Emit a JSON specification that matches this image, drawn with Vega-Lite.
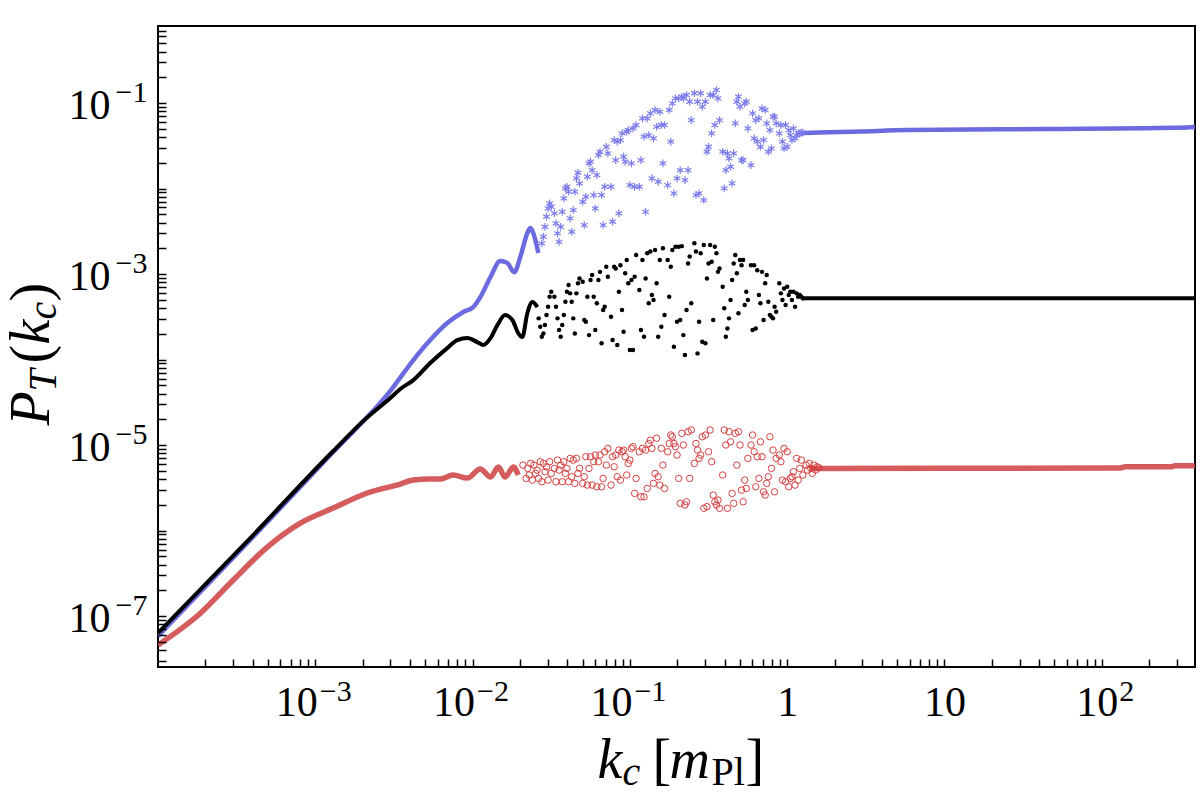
{
"$schema": "https://vega.github.io/schema/vega-lite/v6.json",
"width": 1037, "height": 641,
"autosize": {"type": "none"},
"padding": {"left": 158, "top": 26, "right": 5, "bottom": 129},
"background": "white",
"config": {"view": {"stroke": "black", "strokeWidth": 2}, "axis": {"grid": false, "domain": false}},
"resolve": {"axis": {"x": "independent", "y": "independent"}},
"datasets": {
"redLine": [
{"k":0.0001,"p":4.58e-8,"g":1},{"k":1.86e-4,"p":1.08e-7,"g":1},{"k":3.01e-4,"p":2.64e-7,"g":1},{"k":4.95e-4,"p":6.41e-7,"g":1},{"k":8.04e-4,"p":1.22e-6,"g":1},{"k":1.3e-3,"p":1.83e-6,"g":1},{"k":2.14e-3,"p":2.75e-6,"g":1},{"k":3.47e-3,"p":3.5e-6,"g":1},{"k":4.2e-3,"p":3.9e-6,"g":1},{"k":5.38e-3,"p":4.0e-6,"g":1},{"k":6.24e-3,"p":4.0e-6,"g":1},{"k":7.53e-3,"p":4.46e-6,"g":1},{"k":9.25e-3,"p":4.11e-6,"g":1},{"k":1.12e-2,"p":5.24e-6,"g":1},{"k":1.3e-2,"p":4.23e-6,"g":1},{"k":1.46e-2,"p":5.53e-6,"g":1},{"k":1.61e-2,"p":4.23e-6,"g":1},{"k":1.82e-2,"p":5.53e-6,"g":1},{"k":1.95e-2,"p":4.46e-6,"g":1},
{"k":1.38,"p":5.33e-6,"g":2},{"k":131,"p":5.38e-6,"g":2},{"k":141,"p":5.57e-6,"g":2},{"k":280,"p":5.57e-6,"g":2},{"k":290,"p":5.73e-6,"g":2},{"k":392,"p":5.73e-6,"g":2}
],
"blueLine": [
{"k":0.0001,"p":5.83e-8,"g":1},{"k":3.86e-4,"p":7.74e-7,"g":1},{"k":1.3e-3,"p":8.28e-6,"g":1},{"k":3.0e-3,"p":4.29e-5,"g":1},{"k":4.2e-3,"p":9.86e-5,"g":1},{"k":5.38e-3,"p":1.69e-4,"g":1},{"k":6.9e-3,"p":2.67e-4,"g":1},{"k":8.73e-3,"p":3.6e-4,"g":1},{"k":1.01e-2,"p":4.11e-4,"g":1},{"k":1.12e-2,"p":5.38e-4,"g":1},{"k":1.3e-2,"p":9.23e-4,"g":1},{"k":1.5e-2,"p":1.42e-3,"g":1},{"k":1.66e-2,"p":1.35e-3,"g":1},{"k":1.84e-2,"p":1.05e-3,"g":1},{"k":2.01e-2,"p":1.58e-3,"g":1},{"k":2.23e-2,"p":3.02e-3,"g":1},{"k":2.33e-2,"p":3.45e-3,"g":1},{"k":2.43e-2,"p":3.02e-3,"g":1},{"k":2.62e-2,"p":1.76e-3,"g":1},
{"k":1.202,"p":0.0442,"g":2},{"k":1.3,"p":0.0446,"g":2},{"k":2.92,"p":0.0464,"g":2},{"k":5.79,"p":0.0483,"g":2},{"k":42.5,"p":0.0497,"g":2},{"k":349,"p":0.0517,"g":2},{"k":392,"p":0.0524,"g":2}
],
"blackLine": [
{"k":0.0001,"p":6.32e-8,"g":1},{"k":3.86e-4,"p":8.17e-7,"g":1},{"k":1.3e-3,"p":8.51e-6,"g":1},{"k":2.08e-3,"p":2.01e-5,"g":1},{"k":3.0e-3,"p":3.55e-5,"g":1},{"k":3.47e-3,"p":4.52e-5,"g":1},{"k":4.2e-3,"p":5.75e-5,"g":1},{"k":5.38e-3,"p":9.1e-5,"g":1},{"k":6.9e-3,"p":1.36e-4,"g":1},{"k":8.0e-3,"p":1.69e-4,"g":1},{"k":9.25e-3,"p":1.78e-4,"g":1},{"k":1.07e-2,"p":1.6e-4,"g":1},{"k":1.17e-2,"p":1.48e-4,"g":1},{"k":1.3e-2,"p":1.78e-4,"g":1},{"k":1.44e-2,"p":2.54e-4,"g":1},{"k":1.61e-2,"p":3.31e-4,"g":1},{"k":1.79e-2,"p":2.9e-4,"g":1},{"k":1.95e-2,"p":2.04e-4,"g":1},{"k":2.07e-2,"p":1.83e-4,"g":1},{"k":2.23e-2,"p":3.5e-4,"g":1},{"k":2.4e-2,"p":4.71e-4,"g":1},{"k":2.58e-2,"p":4.11e-4,"g":1},
{"k":1.26,"p":5.2e-4,"g":2},{"k":392,"p":5.2e-4,"g":2}
],
"bluePts": [
{"k":0.02754,"p":0.00228},{"k":0.02818,"p":0.00273},{"k":0.02884,"p":0.00357},{"k":0.02951,"p":0.00468},{"k":0.0302,"p":0.00585},{"k":0.0309,"p":0.0067},{"k":0.03162,"p":0.00612},{"k":0.03311,"p":0.00512},{"k":0.03388,"p":0.00391},{"k":0.03467,"p":0.00299},{"k":0.03548,"p":0.00238},{"k":0.03631,"p":0.00357},{"k":0.03715,"p":0.00535},{"k":0.03802,"p":0.00767},{"k":0.0389,"p":0.01003},{"k":0.03981,"p":0.0105},{"k":0.04074,"p":0.00917},{"k":0.04169,"p":0.00447},{"k":0.04266,"p":0.00312},{"k":0.04365,"p":0.0056},{"k":0.04467,"p":0.00917},{"k":0.04571,"p":0.01314},{"k":0.04677,"p":0.0153},{"k":0.04786,"p":0.01148},{"k":0.05012,"p":0.00701},{"k":0.05129,"p":0.00374},{"k":0.05248,"p":0.00802},{"k":0.0537,"p":0.01374},{"k":0.05495,"p":0.0197},{"k":0.05623,"p":0.0206},{"k":0.05754,"p":0.0164},{"k":0.05888,"p":0.00839},{"k":0.06026,"p":0.00585},{"k":0.06166,"p":0.01437},{"k":0.0631,"p":0.0246},{"k":0.06457,"p":0.0269},{"k":0.06607,"p":0.00839},{"k":0.06761,"p":0.00374},{"k":0.06918,"p":0.0105},{"k":0.07079,"p":0.0308},{"k":0.07244,"p":0.0258},{"k":0.07586,"p":0.0105},{"k":0.07762,"p":0.00409},{"k":0.07943,"p":0.0369},{"k":0.08128,"p":0.0215},{"k":0.08318,"p":0.0353},{"k":0.08511,"p":0.00512},{"k":0.0871,"p":0.0369},{"k":0.08913,"p":0.0442},{"k":0.0912,"p":0.0236},{"k":0.09333,"p":0.0206},{"k":0.0955,"p":0.0462},{"k":0.09772,"p":0.0483},{"k":0.1,"p":0.01098},{"k":0.1023,"p":0.0197},{"k":0.1047,"p":0.0505},{"k":0.1072,"p":0.0105},{"k":0.1096,"p":0.0553},{"k":0.1148,"p":0.0105},{"k":0.1175,"p":0.0215},{"k":0.1202,"p":0.0661},{"k":0.123,"p":0.0404},{"k":0.1259,"p":0.00535},{"k":0.1288,"p":0.0661},{"k":0.1318,"p":0.0422},{"k":0.1349,"p":0.0757},{"k":0.138,"p":0.01314},{"k":0.1413,"p":0.0386},{"k":0.1445,"p":0.0828},{"k":0.1479,"p":0.0528},{"k":0.1514,"p":0.01201},{"k":0.1549,"p":0.0791},{"k":0.1585,"p":0.0553},{"k":0.1622,"p":0.0197},{"k":0.166,"p":0.0553},{"k":0.1738,"p":0.01098},{"k":0.1778,"p":0.0828},{"k":0.182,"p":0.0353},{"k":0.1862,"p":0.0991},{"k":0.1905,"p":0.00877},{"k":0.195,"p":0.1134},{"k":0.1995,"p":0.01314},{"k":0.2042,"p":0.1134},{"k":0.2089,"p":0.0164},{"k":0.2138,"p":0.1186},{"k":0.2188,"p":0.1134},{"k":0.2239,"p":0.01256},{"k":0.2291,"p":0.124},{"k":0.2344,"p":0.0164},{"k":0.2399,"p":0.1036},{"k":0.2455,"p":0.0632},{"k":0.257,"p":0.13},{"k":0.263,"p":0.00839},{"k":0.2692,"p":0.1036},{"k":0.2754,"p":0.00877},{"k":0.2818,"p":0.13},{"k":0.2884,"p":0.0906},{"k":0.2951,"p":0.00733},{"k":0.302,"p":0.1036},{"k":0.309,"p":0.0269},{"k":0.3162,"p":0.0308},{"k":0.3236,"p":0.124},{"k":0.3311,"p":0.0442},{"k":0.3388,"p":0.124},{"k":0.3467,"p":0.0553},{"k":0.3548,"p":0.142},{"k":0.3631,"p":0.1134},{"k":0.3715,"p":0.0632},{"k":0.389,"p":0.0269},{"k":0.3981,"p":0.01003},{"k":0.4074,"p":0.0164},{"k":0.4169,"p":0.0258},{"k":0.4266,"p":0.0225},{"k":0.4365,"p":0.018},{"k":0.4467,"p":0.01148},{"k":0.4571,"p":0.0258},{"k":0.4677,"p":0.0578},{"k":0.4786,"p":0.1036},{"k":0.4898,"p":0.1186},{"k":0.5012,"p":0.0906},{"k":0.5129,"p":0.0215},{"k":0.5248,"p":0.0215},{"k":0.537,"p":0.0991},{"k":0.5495,"p":0.1036},{"k":0.5623,"p":0.0505},{"k":0.5888,"p":0.0188},{"k":0.6026,"p":0.0757},{"k":0.6166,"p":0.0386},{"k":0.631,"p":0.0632},{"k":0.6457,"p":0.0353},{"k":0.6607,"p":0.0661},{"k":0.6761,"p":0.0308},{"k":0.6918,"p":0.0866},{"k":0.7079,"p":0.0369},{"k":0.7244,"p":0.0828},{"k":0.7413,"p":0.0578},{"k":0.7586,"p":0.0269},{"k":0.7762,"p":0.0483},{"k":0.7943,"p":0.0295},{"k":0.8128,"p":0.0692},{"k":0.8318,"p":0.0692},{"k":0.8511,"p":0.0578},{"k":0.8913,"p":0.0442},{"k":0.912,"p":0.0553},{"k":0.9333,"p":0.0353},{"k":0.955,"p":0.0295},{"k":0.9772,"p":0.0553},{"k":1.0,"p":0.0308},{"k":1.023,"p":0.0483},{"k":1.047,"p":0.0422},{"k":1.072,"p":0.0369},{"k":1.096,"p":0.0505},{"k":1.122,"p":0.0386},{"k":1.148,"p":0.0422},{"k":1.175,"p":0.0442},{"k":1.202,"p":0.0442},{"k":1.23,"p":0.045},{"k":1.259,"p":0.045}
],
"blackPts": [
{"k":0.0263,"p":3.03e-4},{"k":0.02692,"p":2.42e-4},{"k":0.02754,"p":1.85e-4},{"k":0.02818,"p":2.02e-4},{"k":0.02884,"p":2.53e-4},{"k":0.02951,"p":3.31e-4},{"k":0.0302,"p":4.15e-4},{"k":0.0309,"p":5.43e-4},{"k":0.03162,"p":6.21e-4},{"k":0.03311,"p":5.43e-4},{"k":0.03388,"p":4.15e-4},{"k":0.03467,"p":3.03e-4},{"k":0.03548,"p":2.21e-4},{"k":0.03631,"p":1.85e-4},{"k":0.03715,"p":2.53e-4},{"k":0.03802,"p":3.31e-4},{"k":0.0389,"p":4.75e-4},{"k":0.03981,"p":6.21e-4},{"k":0.04074,"p":7.43e-4},{"k":0.04169,"p":5.94e-4},{"k":0.04266,"p":4.75e-4},{"k":0.04365,"p":3.03e-4},{"k":0.04467,"p":2.02e-4},{"k":0.04571,"p":5.94e-4},{"k":0.04677,"p":7.78e-4},{"k":0.04786,"p":8.89e-4},{"k":0.05012,"p":8.13e-4},{"k":0.05129,"p":2.9e-4},{"k":0.05248,"p":2.77e-4},{"k":0.0537,"p":5.43e-4},{"k":0.05495,"p":1.93e-4},{"k":0.05623,"p":8.51e-4},{"k":0.05754,"p":9.73e-4},{"k":0.05888,"p":5.43e-4},{"k":0.06026,"p":2.21e-4},{"k":0.06166,"p":4.54e-4},{"k":0.0631,"p":8.51e-4},{"k":0.06457,"p":1.06e-3},{"k":0.06607,"p":1.55e-4},{"k":0.06761,"p":3.79e-4},{"k":0.06918,"p":4.15e-4},{"k":0.07079,"p":1.22e-3},{"k":0.07244,"p":9.31e-4},{"k":0.07586,"p":3.17e-4},{"k":0.07762,"p":1.69e-4},{"k":0.07943,"p":1.22e-3},{"k":0.08128,"p":1.16e-3},{"k":0.08318,"p":1.48e-4},{"k":0.08511,"p":6.21e-4},{"k":0.0871,"p":1.27e-3},{"k":0.08913,"p":3.79e-4},{"k":0.0912,"p":2.11e-4},{"k":0.09333,"p":1.02e-3},{"k":0.0955,"p":1.46e-3},{"k":0.09772,"p":7.78e-4},{"k":0.1,"p":1.29e-4},{"k":0.1023,"p":8.51e-4},{"k":0.1047,"p":1.29e-4},{"k":0.1072,"p":9.31e-4},{"k":0.1096,"p":1.67e-3},{"k":0.1148,"p":6.5e-4},{"k":0.1175,"p":2.21e-4},{"k":0.1202,"p":1.46e-3},{"k":0.123,"p":1.85e-4},{"k":0.1259,"p":8.89e-4},{"k":0.1288,"p":1.75e-3},{"k":0.1318,"p":4.54e-4},{"k":0.1349,"p":1.83e-3},{"k":0.138,"p":5.68e-4},{"k":0.1413,"p":4.97e-4},{"k":0.1445,"p":1.91e-3},{"k":0.1479,"p":7.78e-4},{"k":0.1514,"p":1.85e-4},{"k":0.1549,"p":1.46e-3},{"k":0.1585,"p":2.42e-4},{"k":0.1622,"p":2.0e-3},{"k":0.166,"p":3.31e-4},{"k":0.1738,"p":1.46e-3},{"k":0.1778,"p":5.43e-4},{"k":0.182,"p":1.22e-3},{"k":0.1862,"p":1.91e-3},{"k":0.1905,"p":1.41e-4},{"k":0.195,"p":2.09e-3},{"k":0.1995,"p":2.77e-4},{"k":0.2042,"p":2.09e-3},{"k":0.2089,"p":2.9e-4},{"k":0.2138,"p":2.12e-3},{"k":0.2188,"p":1.93e-4},{"k":0.2239,"p":1.13e-4},{"k":0.2291,"p":3.79e-4},{"k":0.2344,"p":1.33e-3},{"k":0.2399,"p":1.6e-3},{"k":0.2455,"p":4.54e-4},{"k":0.257,"p":2.29e-3},{"k":0.263,"p":1.83e-3},{"k":0.2692,"p":1.18e-4},{"k":0.2754,"p":2.77e-4},{"k":0.2818,"p":1.75e-3},{"k":0.2884,"p":1.61e-4},{"k":0.2951,"p":2.18e-3},{"k":0.302,"p":1.55e-4},{"k":0.309,"p":8.89e-4},{"k":0.3162,"p":1.33e-3},{"k":0.3236,"p":2.18e-3},{"k":0.3311,"p":1.39e-3},{"k":0.3388,"p":2.9e-4},{"k":0.3467,"p":2.09e-3},{"k":0.3548,"p":1.75e-3},{"k":0.3631,"p":1.06e-3},{"k":0.3715,"p":1.16e-3},{"k":0.389,"p":7.11e-4},{"k":0.3981,"p":3.97e-4},{"k":0.4074,"p":1.85e-4},{"k":0.4169,"p":2.31e-4},{"k":0.4266,"p":3.03e-4},{"k":0.4365,"p":4.97e-4},{"k":0.4467,"p":8.51e-4},{"k":0.4571,"p":1.33e-3},{"k":0.4677,"p":1.67e-3},{"k":0.4786,"p":1.02e-3},{"k":0.4898,"p":3.47e-4},{"k":0.5012,"p":1.46e-3},{"k":0.5129,"p":1.27e-3},{"k":0.5248,"p":1.46e-3},{"k":0.537,"p":4.34e-4},{"k":0.5495,"p":6.21e-4},{"k":0.5623,"p":4.97e-4},{"k":0.5888,"p":1.27e-3},{"k":0.6026,"p":2.21e-4},{"k":0.6166,"p":1.27e-3},{"k":0.631,"p":2.31e-4},{"k":0.6457,"p":1.11e-3},{"k":0.6607,"p":5.68e-4},{"k":0.6761,"p":4.54e-4},{"k":0.6918,"p":1.06e-3},{"k":0.7079,"p":2.9e-4},{"k":0.7244,"p":7.78e-4},{"k":0.7413,"p":9.73e-4},{"k":0.7586,"p":4.75e-4},{"k":0.7762,"p":3.31e-4},{"k":0.7943,"p":3.17e-4},{"k":0.8128,"p":3.03e-4},{"k":0.8318,"p":4.15e-4},{"k":0.8511,"p":3.62e-4},{"k":0.8913,"p":7.78e-4},{"k":0.912,"p":5.94e-4},{"k":0.9333,"p":4.97e-4},{"k":0.955,"p":6.79e-4},{"k":0.9772,"p":4.34e-4},{"k":1.0,"p":7.11e-4},{"k":1.023,"p":5.68e-4},{"k":1.047,"p":6.21e-4},{"k":1.072,"p":4.97e-4},{"k":1.096,"p":6.21e-4},{"k":1.122,"p":4.15e-4},{"k":1.148,"p":5.94e-4},{"k":1.175,"p":5.43e-4},{"k":1.202,"p":5.68e-4},{"k":1.23,"p":5.43e-4},{"k":1.259,"p":5.19e-4}
],
"redPts": [
{"k":0.02089,"p":5.83e-6},{"k":0.02188,"p":4.07e-6},{"k":0.02239,"p":5.33e-6},{"k":0.02291,"p":4.46e-6},{"k":0.02344,"p":6.1e-6},{"k":0.02399,"p":3.89e-6},{"k":0.02455,"p":5.83e-6},{"k":0.02512,"p":4.66e-6},{"k":0.0257,"p":5.09e-6},{"k":0.0263,"p":4.07e-6},{"k":0.02692,"p":6.38e-6},{"k":0.02754,"p":3.72e-6},{"k":0.02818,"p":6.1e-6},{"k":0.02884,"p":4.88e-6},{"k":0.02951,"p":5.57e-6},{"k":0.0302,"p":3.89e-6},{"k":0.0309,"p":6.38e-6},{"k":0.03162,"p":4.66e-6},{"k":0.03311,"p":5.33e-6},{"k":0.03388,"p":3.72e-6},{"k":0.03467,"p":6.67e-6},{"k":0.03548,"p":5.09e-6},{"k":0.03631,"p":5.83e-6},{"k":0.03715,"p":3.72e-6},{"k":0.03802,"p":6.38e-6},{"k":0.0389,"p":4.66e-6},{"k":0.03981,"p":5.33e-6},{"k":0.04074,"p":3.72e-6},{"k":0.04169,"p":6.98e-6},{"k":0.04266,"p":4.26e-6},{"k":0.04365,"p":6.67e-6},{"k":0.04467,"p":3.56e-6},{"k":0.04571,"p":6.98e-6},{"k":0.04677,"p":4.66e-6},{"k":0.04786,"p":5.33e-6},{"k":0.05012,"p":3.56e-6},{"k":0.05129,"p":4.26e-6},{"k":0.05248,"p":7.3e-6},{"k":0.0537,"p":3.4e-6},{"k":0.05495,"p":5.33e-6},{"k":0.05623,"p":7.3e-6},{"k":0.05754,"p":3.4e-6},{"k":0.05888,"p":6.38e-6},{"k":0.06026,"p":7.64e-6},{"k":0.06166,"p":3.25e-6},{"k":0.0631,"p":6.38e-6},{"k":0.06457,"p":7.64e-6},{"k":0.06607,"p":3.25e-6},{"k":0.06761,"p":4.07e-6},{"k":0.06918,"p":8.35e-6},{"k":0.07079,"p":5.83e-6},{"k":0.07244,"p":9.14e-6},{"k":0.07586,"p":3.4e-6},{"k":0.07762,"p":7.3e-6},{"k":0.07943,"p":5.57e-6},{"k":0.08128,"p":7.64e-6},{"k":0.08318,"p":4.26e-6},{"k":0.08511,"p":8.73e-6},{"k":0.0871,"p":3.89e-6},{"k":0.08913,"p":8.35e-6},{"k":0.0912,"p":8.73e-6},{"k":0.09333,"p":7.3e-6},{"k":0.0955,"p":4.46e-6},{"k":0.09772,"p":6.1e-6},{"k":0.1,"p":6.67e-6},{"k":0.1023,"p":9.14e-6},{"k":0.1047,"p":9.55e-6},{"k":0.1072,"p":2.72e-6},{"k":0.1096,"p":4.07e-6},{"k":0.1148,"p":8.35e-6},{"k":0.1175,"p":2.48e-6},{"k":0.1202,"p":9.14e-6},{"k":0.123,"p":2.48e-6},{"k":0.1259,"p":8.73e-6},{"k":0.1288,"p":3.11e-6},{"k":0.1318,"p":1.04e-5},{"k":0.1349,"p":1.14e-5},{"k":0.138,"p":9.14e-6},{"k":0.1413,"p":3.56e-6},{"k":0.1445,"p":4.66e-6},{"k":0.1479,"p":1.2e-5},{"k":0.1514,"p":4.26e-6},{"k":0.1549,"p":3.4e-6},{"k":0.1585,"p":9.14e-6},{"k":0.1622,"p":5.83e-6},{"k":0.166,"p":3.11e-6},{"k":0.1738,"p":8.35e-6},{"k":0.1778,"p":1.04e-5},{"k":0.182,"p":1.31e-5},{"k":0.1862,"p":1.25e-5},{"k":0.1905,"p":1.04e-5},{"k":0.195,"p":9.55e-6},{"k":0.1995,"p":7.64e-6},{"k":0.2042,"p":4.07e-6},{"k":0.2089,"p":2.08e-6},{"k":0.2138,"p":1.37e-5},{"k":0.2188,"p":1.0e-5},{"k":0.2239,"p":1.99e-6},{"k":0.2291,"p":2.17e-6},{"k":0.2344,"p":1.43e-5},{"k":0.2399,"p":4.07e-6},{"k":0.2455,"p":1.5e-5},{"k":0.257,"p":6.1e-6},{"k":0.263,"p":1.04e-5},{"k":0.2692,"p":8.73e-6},{"k":0.2754,"p":6.98e-6},{"k":0.2818,"p":7.64e-6},{"k":0.2884,"p":1.25e-5},{"k":0.2951,"p":1.82e-6},{"k":0.302,"p":1.31e-5},{"k":0.309,"p":1.9e-6},{"k":0.3162,"p":8.35e-6},{"k":0.3236,"p":1.5e-5},{"k":0.3311,"p":6.38e-6},{"k":0.3388,"p":2.6e-6},{"k":0.3467,"p":2.17e-6},{"k":0.3548,"p":1.99e-6},{"k":0.3631,"p":2.27e-6},{"k":0.3715,"p":1.82e-6},{"k":0.389,"p":4.46e-6},{"k":0.3981,"p":1.5e-5},{"k":0.4074,"p":1.0e-5},{"k":0.4169,"p":1.82e-6},{"k":0.4266,"p":1.43e-5},{"k":0.4365,"p":1.09e-5},{"k":0.4467,"p":2.72e-6},{"k":0.4571,"p":2.08e-6},{"k":0.4677,"p":1.37e-5},{"k":0.4786,"p":5.83e-6},{"k":0.4898,"p":1.43e-5},{"k":0.5012,"p":1.0e-5},{"k":0.5129,"p":2.97e-6},{"k":0.5248,"p":2.17e-6},{"k":0.537,"p":3.89e-6},{"k":0.5495,"p":3.11e-6},{"k":0.5623,"p":6.98e-6},{"k":0.5888,"p":1.0e-5},{"k":0.6026,"p":1.31e-5},{"k":0.6166,"p":8.35e-6},{"k":0.631,"p":3.25e-6},{"k":0.6457,"p":7.3e-6},{"k":0.6607,"p":4.07e-6},{"k":0.6761,"p":1.09e-5},{"k":0.6918,"p":7.3e-6},{"k":0.7079,"p":2.84e-6},{"k":0.7244,"p":2.6e-6},{"k":0.7413,"p":3.56e-6},{"k":0.7586,"p":4.26e-6},{"k":0.7762,"p":1.25e-5},{"k":0.7943,"p":5.33e-6},{"k":0.8128,"p":8.73e-6},{"k":0.8318,"p":2.84e-6},{"k":0.8511,"p":6.98e-6},{"k":0.8913,"p":7.64e-6},{"k":0.912,"p":6.38e-6},{"k":0.9333,"p":3.89e-6},{"k":0.955,"p":9.14e-6},{"k":0.9772,"p":3.72e-6},{"k":1.0,"p":8.35e-6},{"k":1.023,"p":3.25e-6},{"k":1.047,"p":4.07e-6},{"k":1.072,"p":4.26e-6},{"k":1.096,"p":4.88e-6},{"k":1.122,"p":3.4e-6},{"k":1.148,"p":6.98e-6},{"k":1.175,"p":3.89e-6},{"k":1.202,"p":5.33e-6},{"k":1.23,"p":6.67e-6},{"k":1.259,"p":4.46e-6},{"k":1.318,"p":5.83e-6},{"k":1.349,"p":5.09e-6},{"k":1.38,"p":6.1e-6},{"k":1.413,"p":5.33e-6},{"k":1.445,"p":4.66e-6},{"k":1.479,"p":5.83e-6},{"k":1.514,"p":5.09e-6},{"k":1.549,"p":5.57e-6},{"k":1.585,"p":5.43e-6}
]
},
"layer": [
{
"data": {"name": "redLine"},
"mark": {"type": "line", "color": "#cf4a4a", "strokeWidth": 5.5, "interpolate": "monotone", "clip": true, "opacity": 0.9},
"encoding": {
"x": {"field": "k", "type": "quantitative", "scale": {"type": "log", "domain": [0.0001, 391.5], "nice": false},
"axis": {"orient": "bottom", "zindex": 2, "values": [0.0002,0.0003,0.0004,0.0005,0.0006,0.0007,0.0008,0.0009,0.001,0.002,0.003,0.004,0.005,0.006,0.007,0.008,0.009,0.01,0.02,0.03,0.04,0.05,0.06,0.07,0.08,0.09,0.1,0.2,0.3,0.4,0.5,0.6,0.7,0.8,0.9,1,2,3,4,5,6,7,8,9,10,20,30,40,50,60,70,80,90,100,200,300],
"labels": false, "tickSize": -8, "tickWidth": 1.5, "tickColor": "black", "domain": false, "grid": false,
"title": "k", "titleFont": "Liberation Serif", "titleFontSize": 56, "titleFontStyle": "italic", "titleFontWeight": "normal", "titleColor": "black", "titleX": 439, "titleY": 110, "titleAlign": "left", "titleBaseline": "alphabetic", "titleAngle": 0}},
"y": {"field": "p", "type": "quantitative", "scale": {"type": "log", "domain": [2.535e-8, 0.796], "nice": false},
"axis": {"orient": "left", "zindex": 2, "values": [3e-8,4e-8,5e-8,6e-8,7e-8,8e-8,9e-8,1e-7,2e-7,3e-7,4e-7,5e-7,6e-7,7e-7,8e-7,9e-7,1e-6,2e-6,3e-6,4e-6,5e-6,6e-6,7e-6,8e-6,9e-6,1e-5,2e-5,3e-5,4e-5,5e-5,6e-5,7e-5,8e-5,9e-5,1e-4,2e-4,3e-4,4e-4,5e-4,6e-4,7e-4,8e-4,9e-4,0.001,0.002,0.003,0.004,0.005,0.006,0.007,0.008,0.009,0.01,0.02,0.03,0.04,0.05,0.06,0.07,0.08,0.09,0.1,0.2,0.3,0.4,0.5,0.6,0.7],
"labels": false, "tickSize": -8, "tickWidth": 1.5, "tickColor": "black", "domain": false, "grid": false,
"title": "P", "titleFont": "Liberation Serif", "titleFontSize": 56, "titleFontStyle": "italic", "titleFontWeight": "normal", "titleColor": "black", "titleX": -110, "titleY": 399, "titleAlign": "left", "titleBaseline": "alphabetic", "titleAngle": 270}},
"detail": {"field": "g", "type": "nominal"}
}
},
{
"data": {"name": "blueLine"},
"mark": {"type": "line", "color": "#6b6bdf", "strokeWidth": 4.5, "interpolate": "monotone", "clip": true},
"encoding": {
"x": {"field": "k", "type": "quantitative", "scale": {"type": "log", "domain": [0.0001, 391.5], "nice": false},
"axis": {"orient": "bottom", "ticks": false, "domain": false, "grid": false, "values": [0.001, 0.01, 0.1], "labelExpr": "'10'", "labelAlign": "right", "labelBaseline": "alphabetic", "labelOffset": 2, "labelPadding": 48, "labelFont": "Liberation Serif", "labelFontSize": 42, "labelColor": "black", "labelOverlap": false, "labelFlush": false, "labelBound": false,
"title": "c", "titleFont": "Liberation Serif", "titleFontSize": 40, "titleFontStyle": "italic", "titleFontWeight": "normal", "titleColor": "black", "titleX": 464, "titleY": 117, "titleAlign": "left", "titleBaseline": "alphabetic", "titleAngle": 0}},
"y": {"field": "p", "type": "quantitative", "scale": {"type": "log", "domain": [2.535e-8, 0.796], "nice": false},
"axis": {"orient": "left", "ticks": false, "domain": false, "grid": false, "values": [0.1, 0.001, 1e-5, 1e-7], "labelExpr": "'10'", "labelAlign": "right", "labelBaseline": "alphabetic", "labelOffset": 15, "labelPadding": 48, "labelFont": "Liberation Serif", "labelFontSize": 42, "labelColor": "black", "labelOverlap": false, "labelFlush": false, "labelBound": false,
"title": "T", "titleFont": "Liberation Serif", "titleFontSize": 40, "titleFontStyle": "italic", "titleFontWeight": "normal", "titleColor": "black", "titleX": -103, "titleY": 365, "titleAlign": "left", "titleBaseline": "alphabetic", "titleAngle": 270}},
"detail": {"field": "g", "type": "nominal"}
}
},
{
"data": {"name": "blackLine"},
"mark": {"type": "line", "color": "black", "strokeWidth": 4, "interpolate": "monotone", "clip": true},
"encoding": {
"x": {"field": "k", "type": "quantitative", "scale": {"type": "log", "domain": [0.0001, 391.5], "nice": false},
"axis": {"orient": "bottom", "ticks": false, "domain": false, "grid": false, "values": [1, 10], "labelExpr": "datum.value == 1 ? '1' : '10'", "labelAlign": "center", "labelBaseline": "alphabetic", "labelPadding": 48, "labelFont": "Liberation Serif", "labelFontSize": 42, "labelColor": "black", "labelOverlap": false, "labelFlush": false, "labelBound": false,
"title": "[", "titleFont": "Liberation Serif", "titleFontSize": 56, "titleFontStyle": "normal", "titleFontWeight": "normal", "titleColor": "black", "titleX": 494, "titleY": 110, "titleAlign": "left", "titleBaseline": "alphabetic", "titleAngle": 0}},
"y": {"field": "p", "type": "quantitative", "scale": {"type": "log", "domain": [2.535e-8, 0.796], "nice": false},
"axis": {"orient": "left", "ticks": false, "domain": false, "grid": false, "values": [0.1, 0.001, 1e-5, 1e-7], "labelExpr": "datum.value == 0.1 ? '−1' : datum.value == 0.001 ? '−3' : datum.value == 1e-5 ? '−5' : '−7'", "labelAlign": "right", "labelBaseline": "alphabetic", "labelOffset": -2, "labelPadding": 11, "labelFont": "Liberation Serif", "labelFontSize": 30, "labelColor": "black", "labelOverlap": false, "labelFlush": false, "labelBound": false,
"title": "(", "titleFont": "Liberation Serif", "titleFontSize": 56, "titleFontStyle": "normal", "titleFontWeight": "normal", "titleColor": "black", "titleX": -110, "titleY": 337, "titleAlign": "left", "titleBaseline": "alphabetic", "titleAngle": 270}},
"detail": {"field": "g", "type": "nominal"}
}
},
{
"data": {"name": "redPts"},
"mark": {"type": "point", "shape": "circle", "filled": false, "color": "#d64040", "strokeWidth": 1, "size": 42, "opacity": 1, "clip": true},
"encoding": {
"x": {"field": "k", "type": "quantitative", "scale": {"type": "log", "domain": [0.0001, 391.5], "nice": false},
"axis": {"orient": "bottom", "ticks": false, "domain": false, "grid": false, "values": [100], "labelExpr": "'10'", "labelAlign": "right", "labelBaseline": "alphabetic", "labelOffset": 16, "labelPadding": 48, "labelFont": "Liberation Serif", "labelFontSize": 42, "labelColor": "black", "labelOverlap": false, "labelFlush": false, "labelBound": false,
"title": "m", "titleFont": "Liberation Serif", "titleFontSize": 56, "titleFontStyle": "italic", "titleFontWeight": "normal", "titleColor": "black", "titleX": 511, "titleY": 110, "titleAlign": "left", "titleBaseline": "alphabetic", "titleAngle": 0}},
"y": {"field": "p", "type": "quantitative", "scale": {"type": "log", "domain": [2.535e-8, 0.796], "nice": false},
"axis": {"orient": "left", "ticks": false, "labels": false, "domain": false, "grid": false, "title": "k", "titleFont": "Liberation Serif", "titleFontSize": 56, "titleFontStyle": "italic", "titleFontWeight": "normal", "titleColor": "black", "titleX": -110, "titleY": 318, "titleAlign": "left", "titleBaseline": "alphabetic", "titleAngle": 270}}
}
},
{
"data": {"name": "bluePts"},
"mark": {"type": "point", "shape": "M0,-1L0,1M-0.87,-0.5L0.87,0.5M-0.87,0.5L0.87,-0.5", "filled": false, "color": "#7c7cec", "strokeWidth": 1.2, "size": 58, "opacity": 1, "clip": true},
"encoding": {
"x": {"field": "k", "type": "quantitative", "scale": {"type": "log", "domain": [0.0001, 391.5], "nice": false},
"axis": {"orient": "bottom", "ticks": false, "domain": false, "grid": false, "values": [0.001, 0.01, 0.1], "labelExpr": "datum.value == 0.001 ? '−3' : datum.value == 0.01 ? '−2' : '−1'", "labelAlign": "left", "labelBaseline": "alphabetic", "labelOffset": 4, "labelPadding": 33, "labelFont": "Liberation Serif", "labelFontSize": 30, "labelColor": "black", "labelOverlap": false, "labelFlush": false, "labelBound": false,
"title": "Pl", "titleFont": "Liberation Serif", "titleFontSize": 40, "titleFontStyle": "normal", "titleFontWeight": "normal", "titleColor": "black", "titleX": 553, "titleY": 117, "titleAlign": "left", "titleBaseline": "alphabetic", "titleAngle": 0}},
"y": {"field": "p", "type": "quantitative", "scale": {"type": "log", "domain": [2.535e-8, 0.796], "nice": false},
"axis": {"orient": "left", "ticks": false, "labels": false, "domain": false, "grid": false, "title": "c", "titleFont": "Liberation Serif", "titleFontSize": 40, "titleFontStyle": "italic", "titleFontWeight": "normal", "titleColor": "black", "titleX": -103, "titleY": 293, "titleAlign": "left", "titleBaseline": "alphabetic", "titleAngle": 270}}
}
},
{
"data": {"name": "blackPts"},
"mark": {"type": "point", "shape": "circle", "filled": true, "color": "black", "size": 20, "opacity": 1, "clip": true},
"encoding": {
"x": {"field": "k", "type": "quantitative", "scale": {"type": "log", "domain": [0.0001, 391.5], "nice": false},
"axis": {"orient": "bottom", "ticks": false, "domain": false, "grid": false, "values": [100], "labelExpr": "'2'", "labelAlign": "left", "labelBaseline": "alphabetic", "labelOffset": 17, "labelPadding": 33, "labelFont": "Liberation Serif", "labelFontSize": 30, "labelColor": "black", "labelOverlap": false, "labelFlush": false, "labelBound": false,
"title": "]", "titleFont": "Liberation Serif", "titleFontSize": 56, "titleFontStyle": "normal", "titleFontWeight": "normal", "titleColor": "black", "titleX": 587, "titleY": 110, "titleAlign": "left", "titleBaseline": "alphabetic", "titleAngle": 0}},
"y": {"field": "p", "type": "quantitative", "scale": {"type": "log", "domain": [2.535e-8, 0.796], "nice": false},
"axis": {"orient": "left", "ticks": false, "labels": false, "domain": false, "grid": false, "title": ")", "titleFont": "Liberation Serif", "titleFontSize": 56, "titleFontStyle": "normal", "titleFontWeight": "normal", "titleColor": "black", "titleX": -110, "titleY": 275, "titleAlign": "left", "titleBaseline": "alphabetic", "titleAngle": 270}}
}
}
]
}
